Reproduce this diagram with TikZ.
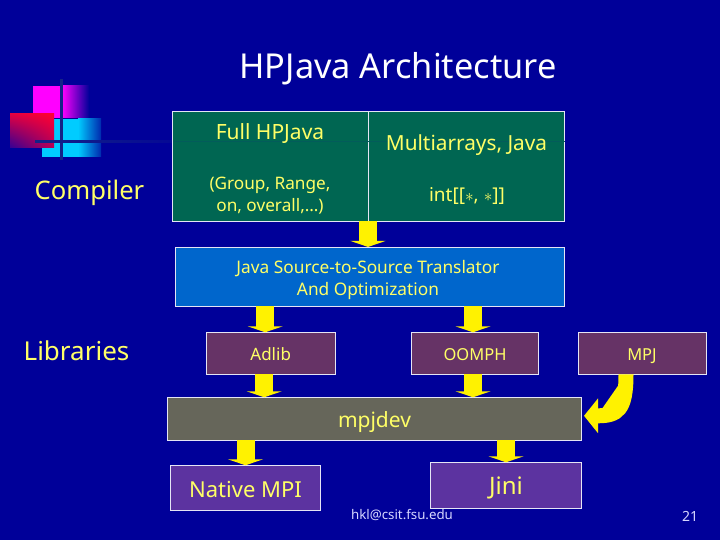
\documentclass[tikz,border=0pt]{standalone}
\usepackage{fontspec}
\setmainfont{Noto Sans}
\usepackage{tikz}
\usetikzlibrary{arrows.meta}
\usetikzlibrary{shadings}
\definecolor{slidebg}{RGB}{0,0,153}
\definecolor{slidetext}{RGB}{255,255,102}
\definecolor{slidenote}{RGB}{215,215,255}
\definecolor{tablegreen}{RGB}{0,102,82}
\definecolor{transblue}{RGB}{0,102,204}
\definecolor{libplum}{RGB}{102,51,102}
\definecolor{devgrey}{RGB}{102,102,90}
\definecolor{basepurple}{RGB}{92,51,160}
\definecolor{logoline}{RGB}{20,35,135}
\definecolor{logopink}{RGB}{255,0,255}
\definecolor{logocyan}{RGB}{0,204,255}
\definecolor{logored}{RGB}{255,0,51}
\definecolor{logodark}{RGB}{50,0,150}

\begin{document}
\begin{tikzpicture}[x=1pt,y=-1pt]
\tikzset{>={Triangle[width=35pt,length=6pt]}}
\tikzstyle{box} =[draw=white!90!slidebg,line width=0.9pt,outer sep=0pt,inner sep=0pt,text=slidetext,align=center]
\tikzstyle{caption} =[text=slidetext,align=center,inner sep=0pt]
\tikzstyle{flow} =[->,draw=yellow,line width=18pt]

\useasboundingbox (0,0) rectangle (720,540);
\fill[slidebg] (0,0) rectangle (720,540);

% logo
\fill[logopink] (33,86) rectangle (62,118);
\shade[left color=logopink,right color=slidebg] (62,86) rectangle (89,118);
\fill[logocyan] (42,119) rectangle (78,157);
\shade[left color=logocyan,right color=slidebg!80!logocyan] (78,119) rectangle (101,157);
\shade[upper right=logored,upper left=logored!85!logodark,lower left=logodark,lower right=logored!65!logodark] (10,114) rectangle (54,148);
\fill[logoline] (60.2,79) rectangle (62.8,160);
\shade[left color=logoline,right color=logoline!25!slidebg] (35,140.2) rectangle (172,142.8);

\node[caption,font=\fontsize{34.3}{40}\selectfont,text=white] (title) at (398,69) {HPJava Architecture};
\node[caption,font=\fontsize{25.6}{28}\selectfont] (compiler) at (89.5,192.5) {Compiler};
\node[caption,font=\fontsize{26}{28}\selectfont] (libraries) at (76.5,350.5) {Libraries};

\node[box,fill=tablegreen,minimum width=196pt,minimum height=110pt] (full) at (270,166.3) {};
\node[box,fill=tablegreen,minimum width=196.5pt,minimum height=110pt] (multi) at (466.5,166.3) {};
\fill[logoline!15!tablegreen] (172.5,140.8) rectangle (565,142.2);
\node[caption,font=\fontsize{21}{24}\selectfont] (fulltext) at (270,134) {Full HPJava};
\node[caption,font=\fontsize{20.8}{24}\selectfont] (multitext) at (466.5,145.5) {Multiarrays, Java};
\node[caption,font=\fontsize{17.2}{22}\selectfont] (grouptext) at (270,196) {(Group, Range,\\on, overall,…)};
\node[caption,font=\fontsize{19}{22}\selectfont] (inttext) at (467,196.5) {int[[$*$, $*$]]};

\node[box,fill=transblue,minimum width=389.5pt,minimum height=59.5pt] (trans) at (370,276.7) {};
\node[caption,font=\fontsize{17.3}{22}\selectfont] (transtext) at (368,280.5) {Java Source-to-Source Translator\\And Optimization};

\node[box,fill=libplum,minimum width=128.6pt,minimum height=42pt,font=\fontsize{17}{18}\selectfont] (adlib) at (270.7,353.3) {\raisebox{-7.4pt}[0pt][0pt]{Adlib}};
\node[box,fill=libplum,minimum width=127.2pt,minimum height=42pt,font=\fontsize{16.5}{18}\selectfont] (oomph) at (475,353.3) {\raisebox{-7.4pt}[0pt][0pt]{OOMPH}};
\node[box,fill=libplum,minimum width=128pt,minimum height=42pt,font=\fontsize{16.5}{18}\selectfont] (mpj) at (642,353.3) {\raisebox{-7.4pt}[0pt][0pt]{MPJ}};

\node[box,fill=devgrey,minimum width=414pt,minimum height=43pt,font=\fontsize{21}{24}\selectfont] (mpjdev) at (374.5,418.8) {\raisebox{-8.7pt}[0pt][0pt]{mpjdev}};
\node[box,fill=basepurple,minimum width=150.3pt,minimum height=45pt,font=\fontsize{22}{24}\selectfont] (native) at (245.5,487.8) {\raisebox{-9.9pt}[0pt][0pt]{Native MPI}};
\node[box,fill=basepurple,minimum width=151.1pt,minimum height=46pt,font=\fontsize{24}{26}\selectfont] (jini) at (506,485.3) {\raisebox{-9pt}[0pt][0pt]{Jini}};

\node[caption,font=\fontsize{13.3}{16}\selectfont,text=slidenote] (mail) at (402,515.5) {hkl@csit.fsu.edu};
\node[caption,font=\fontsize{14}{16}\selectfont,text=slidenote] (page) at (690,516) {21};

\draw [flow] (full.south east) -- (full.south east |- trans.north);
\draw [flow] ([xshift=-5.5]adlib.north |- trans.south) -- ([xshift=-5.5]adlib.north);
\draw [flow] ([xshift=-2]oomph.north |- trans.south) -- ([xshift=-2]oomph.north);
\draw [flow] ([xshift=-6.5]adlib.south) -- ([xshift=-6.5]adlib.south |- mpjdev.north);
\draw [flow] ([xshift=-2]oomph.south) -- ([xshift=-2]oomph.south |- mpjdev.north);
\draw [flow] (native.north |- mpjdev.south) -- (native.north);
\draw [flow] (jini.north |- mpjdev.south) -- (jini.north);
\draw [-{Triangle[width=34pt,length=14pt]},draw=yellow,fill=yellow,line width=15pt] ([xshift=-16]mpj.south) .. controls ([xshift=-16,yshift=-36]mpj.south) and ([xshift=36,yshift=3]mpjdev.east) .. ([xshift=2.5,yshift=3]mpjdev.east);
\end{tikzpicture}
\end{document}
